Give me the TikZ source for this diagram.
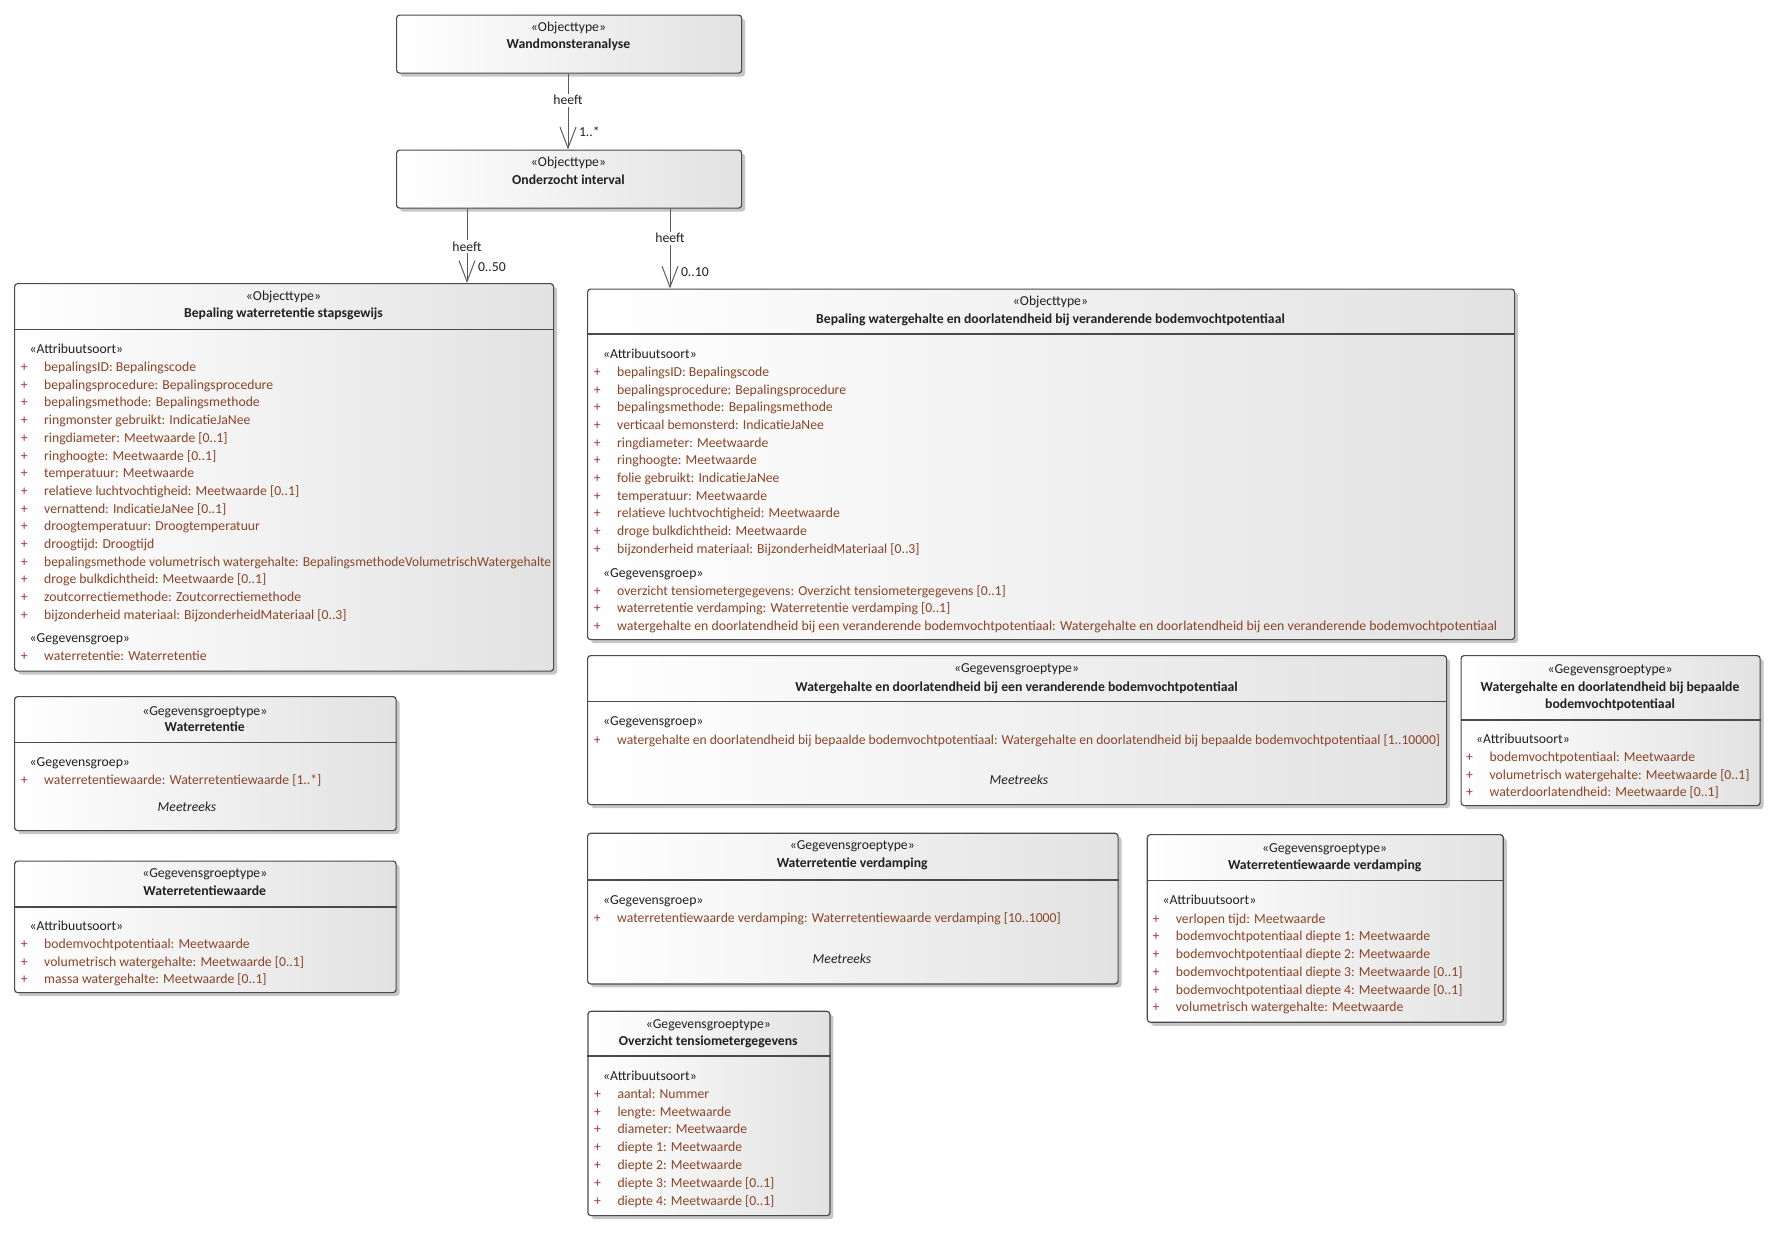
\documentclass[tikz,border=0pt]{standalone}
\usepackage{fontspec}
\setmainfont{Carlito}
\usepackage{graphicx}
\usepackage{tikz}
\usetikzlibrary{arrows.meta,shadows}
\definecolor{UmlBorder}{HTML}{4A4A4A}
\definecolor{UmlFill}{HTML}{E2E2E2}
\definecolor{UmlShadow}{HTML}{C6C6C6}
\definecolor{UmlText}{HTML}{202020}
\definecolor{UmlAttr}{HTML}{8A4426}
\definecolor{UmlPlus}{HTML}{A83232}
\definecolor{UmlLine}{HTML}{5A5A5A}
\newcommand{\umlfont}{\fontsize{13.7}{16.6}\selectfont}
\tikzset{
  classbox/.style={anchor=north west, inner sep=0pt, draw=UmlBorder, line width=1.2pt,
                   rounded corners=3pt, left color=white, right color=UmlFill,
                   drop shadow={shadow xshift=3.5pt, shadow yshift=-3.5pt, fill=UmlShadow, opacity=1}},
  divider/.style={draw=UmlBorder, line width=1.2pt},
  stereo/.style={anchor=mid, inner sep=0pt, yshift=-2.5pt, text=UmlText},
  title/.style={stereo, font=\umlfont\bfseries},
  group/.style={anchor=mid west, inner sep=0pt, yshift=-2.5pt, text=UmlText},
  attr/.style={anchor=mid west, inner sep=0pt, yshift=-2.5pt, text=UmlAttr,
               execute at begin node={\makebox[23.4pt][l]{\textcolor{UmlPlus}{+}}}},
  series/.style={anchor=mid, inner sep=0pt, yshift=-2.5pt, text=UmlText, font=\umlfont\itshape},
  assoc/.style={-{Straight Barb[length=21pt,width=16pt]}, draw=UmlLine, line width=1pt},
  rolename/.style={fill=white, inner sep=1.5pt, text=UmlText},
  mult/.style={anchor=mid west, inner sep=0pt, xshift=10.5pt, yshift=-2pt, text=UmlText},
}

\begin{document}
\begin{tikzpicture}[x=1pt,y=-1pt,font=\umlfont]
  \useasboundingbox (0,0) rectangle (1780,1235);

  \node[classbox, minimum width=345pt, minimum height=58pt] (wand) at (396,14.5) {};
  \node[stereo] (wand-s) at (568.5,27) {«Objecttype»};
  \node[title] (wand-t) at (568.5,44) {Wandmonsteranalyse};

  \node[classbox, minimum width=345pt, minimum height=58pt] (onder) at (396,149.5) {};
  \node[stereo] (onder-s) at (568.5,162) {«Objecttype»};
  \node[title] (onder-t) at (568.5,180) {Onderzocht interval};

  \node[classbox, minimum width=539pt, minimum height=387.5pt] (bwr) at (14,283) {};
  \draw[divider] (bwr.west |- 0,329.5) -- (bwr.east |- 0,329.5);
  \node[stereo] (bwr-s) at (283.5,296) {«Objecttype»};
  \node[title] (bwr-t) at (283.5,312.5) {Bepaling waterretentie stapsgewijs};
  \node[group] (bwr-ga) at (29.5,348.5) {«Attribuutsoort»};
  \node[attr] (bwr-a1) at (20.6,366.7) {bepalingsID: Bepalingscode};
  \node[attr] (bwr-a2) at (20.6,384.4) {bepalingsprocedure: Bepalingsprocedure};
  \node[attr] (bwr-a3) at (20.6,402.1) {bepalingsmethode: Bepalingsmethode};
  \node[attr] (bwr-a4) at (20.6,419.8) {ringmonster gebruikt: IndicatieJaNee};
  \node[attr] (bwr-a5) at (20.6,437.5) {ringdiameter: Meetwaarde [0..1]};
  \node[attr] (bwr-a6) at (20.6,455.2) {ringhoogte: Meetwaarde [0..1]};
  \node[attr] (bwr-a7) at (20.6,472.8) {temperatuur: Meetwaarde};
  \node[attr] (bwr-a8) at (20.6,490.5) {relatieve luchtvochtigheid: Meetwaarde [0..1]};
  \node[attr] (bwr-a9) at (20.6,508.2) {vernattend: IndicatieJaNee [0..1]};
  \node[attr] (bwr-a10) at (20.6,525.9) {droogtemperatuur: Droogtemperatuur};
  \node[attr] (bwr-a11) at (20.6,543.6) {droogtijd: Droogtijd};
  \node[attr] (bwr-a12) at (20.6,561.3) {\resizebox{507pt}{\height}{bepalingsmethode volumetrisch watergehalte: BepalingsmethodeVolumetrischWatergehalte}};
  \node[attr] (bwr-a13) at (20.6,579.0) {droge bulkdichtheid: Meetwaarde [0..1]};
  \node[attr] (bwr-a14) at (20.6,596.7) {zoutcorrectiemethode: Zoutcorrectiemethode};
  \node[attr] (bwr-a15) at (20.6,614.4) {bijzonderheid materiaal: BijzonderheidMateriaal [0..3]};
  \node[group] (bwr-gg) at (29.5,637.7) {«Gegevensgroep»};
  \node[attr] (bwr-g1) at (20.6,655.7) {waterretentie: Waterretentie};

  \node[classbox, minimum width=927pt, minimum height=350.5pt] (bwg) at (587,288.5) {};
  \draw[divider] (bwg.west |- 0,334) -- (bwg.east |- 0,334);
  \node[stereo] (bwg-s) at (1050.5,301) {«Objecttype»};
  \node[title] (bwg-t) at (1050.5,319) {Bepaling watergehalte en doorlatendheid bij veranderende bodemvochtpotentiaal};
  \node[group] (bwg-ga) at (603,353.3) {«Attribuutsoort»};
  \node[attr] (bwg-a1) at (593.6,371.7) {bepalingsID: Bepalingscode};
  \node[attr] (bwg-a2) at (593.6,389.4) {bepalingsprocedure: Bepalingsprocedure};
  \node[attr] (bwg-a3) at (593.6,407.1) {bepalingsmethode: Bepalingsmethode};
  \node[attr] (bwg-a4) at (593.6,424.7) {verticaal bemonsterd: IndicatieJaNee};
  \node[attr] (bwg-a5) at (593.6,442.4) {ringdiameter: Meetwaarde};
  \node[attr] (bwg-a6) at (593.6,460.1) {ringhoogte: Meetwaarde};
  \node[attr] (bwg-a7) at (593.6,477.8) {folie gebruikt: IndicatieJaNee};
  \node[attr] (bwg-a8) at (593.6,495.5) {temperatuur: Meetwaarde};
  \node[attr] (bwg-a9) at (593.6,513.1) {relatieve luchtvochtigheid: Meetwaarde};
  \node[attr] (bwg-a10) at (593.6,530.8) {droge bulkdichtheid: Meetwaarde};
  \node[attr] (bwg-a11) at (593.6,548.5) {bijzonderheid materiaal: BijzonderheidMateriaal [0..3]};
  \node[group] (bwg-gg) at (603,572.7) {«Gegevensgroep»};
  \node[attr] (bwg-g1) at (593.6,590.3) {overzicht tensiometergegevens: Overzicht tensiometergegevens [0..1]};
  \node[attr] (bwg-g2) at (593.6,608.0) {waterretentie verdamping: Waterretentie verdamping [0..1]};
  \node[attr] (bwg-g3) at (593.6,625.7) {\resizebox{880pt}{\height}{watergehalte en doorlatendheid bij een veranderende bodemvochtpotentiaal: Watergehalte en doorlatendheid bij een veranderende bodemvochtpotentiaal}};

  \node[classbox, minimum width=859pt, minimum height=149pt] (wdv) at (587,655) {};
  \draw[divider] (wdv.west |- 0,701.5) -- (wdv.east |- 0,701.5);
  \node[stereo] (wdv-s) at (1016.5,667.5) {«Gegevensgroeptype»};
  \node[title] (wdv-t) at (1016.5,686.5) {Watergehalte en doorlatendheid bij een veranderende bodemvochtpotentiaal};
  \node[group] (wdv-gg) at (603,721) {«Gegevensgroep»};
  \node[attr] (wdv-g1) at (593.6,740) {\resizebox{823pt}{\height}{watergehalte en doorlatendheid bij bepaalde bodemvochtpotentiaal: Watergehalte en doorlatendheid bij bepaalde bodemvochtpotentiaal [1..10000]}};
  \node[series] (wdv-m) at (1019,780) {Meetreeks};

  \node[classbox, minimum width=299pt, minimum height=150pt] (wdb) at (1460.5,655) {};
  \draw[divider] (wdb.west |- 0,720) -- (wdb.east |- 0,720);
  \node[stereo] (wdb-s) at (1610,668.3) {«Gegevensgroeptype»};
  \node[title] (wdb-t1) at (1610,686.7) {Watergehalte en doorlatendheid bij bepaalde};
  \node[title] (wdb-t2) at (1610,703.3) {bodemvochtpotentiaal};
  \node[group] (wdb-ga) at (1476,738.5) {«Attribuutsoort»};
  \node[attr] (wdb-a1) at (1466,757) {bodemvochtpotentiaal: Meetwaarde};
  \node[attr] (wdb-a2) at (1466,774.5) {volumetrisch watergehalte: Meetwaarde [0..1]};
  \node[attr] (wdb-a3) at (1466,791.7) {waterdoorlatendheid: Meetwaarde [0..1]};

  \node[classbox, minimum width=381.5pt, minimum height=134pt] (wr) at (14,696) {};
  \draw[divider] (wr.west |- 0,742.5) -- (wr.east |- 0,742.5);
  \node[stereo] (wr-s) at (204.75,710.7) {«Gegevensgroeptype»};
  \node[title] (wr-t) at (204.75,726.7) {Waterretentie};
  \node[group] (wr-gg) at (29.5,761.7) {«Gegevensgroep»};
  \node[attr] (wr-g1) at (20.6,780) {waterretentiewaarde: Waterretentiewaarde [1..*]};
  \node[series] (wr-m) at (187,806.7) {Meetreeks};

  \node[classbox, minimum width=381.5pt, minimum height=131.5pt] (wrw) at (14,860.5) {};
  \draw[divider] (wrw.west |- 0,907) -- (wrw.east |- 0,907);
  \node[stereo] (wrw-s) at (204.75,872.7) {«Gegevensgroeptype»};
  \node[title] (wrw-t) at (204.75,891) {Waterretentiewaarde};
  \node[group] (wrw-ga) at (29.5,926) {«Attribuutsoort»};
  \node[attr] (wrw-a1) at (20.6,943.8) {bodemvochtpotentiaal: Meetwaarde};
  \node[attr] (wrw-a2) at (20.6,961.4) {volumetrisch watergehalte: Meetwaarde [0..1]};
  \node[attr] (wrw-a3) at (20.6,979) {massa watergehalte: Meetwaarde [0..1]};

  \node[classbox, minimum width=530.5pt, minimum height=150.6pt] (wrv) at (587,832.7) {};
  \draw[divider] (wrv.west |- 0,880) -- (wrv.east |- 0,880);
  \node[stereo] (wrv-s) at (852.25,845) {«Gegevensgroeptype»};
  \node[title] (wrv-t) at (852.25,862.7) {Waterretentie verdamping};
  \node[group] (wrv-gg) at (603,899.3) {«Gegevensgroep»};
  \node[attr] (wrv-g1) at (593.6,917.3) {waterretentiewaarde verdamping: Waterretentiewaarde verdamping [10..1000]};
  \node[series] (wrv-m) at (842,958.3) {Meetreeks};

  \node[classbox, minimum width=356pt, minimum height=187.7pt] (wrwv) at (1146.7,834) {};
  \draw[divider] (wrwv.west |- 0,880.7) -- (wrwv.east |- 0,880.7);
  \node[stereo] (wrwv-s) at (1324.7,847.3) {«Gegevensgroeptype»};
  \node[title] (wrwv-t) at (1324.7,864.3) {Waterretentiewaarde verdamping};
  \node[group] (wrwv-ga) at (1162.5,900) {«Attribuutsoort»};
  \node[attr] (wrwv-a1) at (1152.3,918.3) {verlopen tijd: Meetwaarde};
  \node[attr] (wrwv-a2) at (1152.3,936) {bodemvochtpotentiaal diepte 1: Meetwaarde};
  \node[attr] (wrwv-a3) at (1152.3,953.7) {bodemvochtpotentiaal diepte 2: Meetwaarde};
  \node[attr] (wrwv-a4) at (1152.3,971.4) {bodemvochtpotentiaal diepte 3: Meetwaarde [0..1]};
  \node[attr] (wrwv-a5) at (1152.3,989.1) {bodemvochtpotentiaal diepte 4: Meetwaarde [0..1]};
  \node[attr] (wrwv-a6) at (1152.3,1006.8) {volumetrisch watergehalte: Meetwaarde};

  \node[classbox, minimum width=242pt, minimum height=204.3pt] (ot) at (587.3,1010.7) {};
  \draw[divider] (ot.west |- 0,1056) -- (ot.east |- 0,1056);
  \node[stereo] (ot-s) at (708.3,1024) {«Gegevensgroeptype»};
  \node[title] (ot-t) at (708.3,1040.7) {Overzicht tensiometergegevens};
  \node[group] (ot-ga) at (603,1076) {«Attribuutsoort»};
  \node[attr] (ot-a1) at (593.9,1093.3) {aantal: Nummer};
  \node[attr] (ot-a2) at (593.9,1111.1) {lengte: Meetwaarde};
  \node[attr] (ot-a3) at (593.9,1128.9) {diameter: Meetwaarde};
  \node[attr] (ot-a4) at (593.9,1146.7) {diepte 1: Meetwaarde};
  \node[attr] (ot-a5) at (593.9,1164.5) {diepte 2: Meetwaarde};
  \node[attr] (ot-a6) at (593.9,1182.3) {diepte 3: Meetwaarde [0..1]};
  \node[attr] (ot-a7) at (593.9,1200.1) {diepte 4: Meetwaarde [0..1]};

  \coordinate (c1) at (568,0);
  \coordinate (c2) at (467,0);
  \coordinate (c3) at (670,0);
  \draw[assoc] (wand.south -| c1) -- node[rolename, pos=.35] (h1) {heeft}
    node[mult, pos=.775] (m1) {1..*} (onder.north -| c1);
  \draw[assoc] (onder.south -| c2) -- node[rolename, pos=.51] (h2) {heeft}
    node[mult, pos=.785] (m2) {0..50} (bwr.north -| c2);
  \draw[assoc] (onder.south -| c3) -- node[rolename, pos=.37] (h3) {heeft}
    node[mult, pos=.794] (m3) {0..10} (bwg.north -| c3);
\end{tikzpicture}
\end{document}
